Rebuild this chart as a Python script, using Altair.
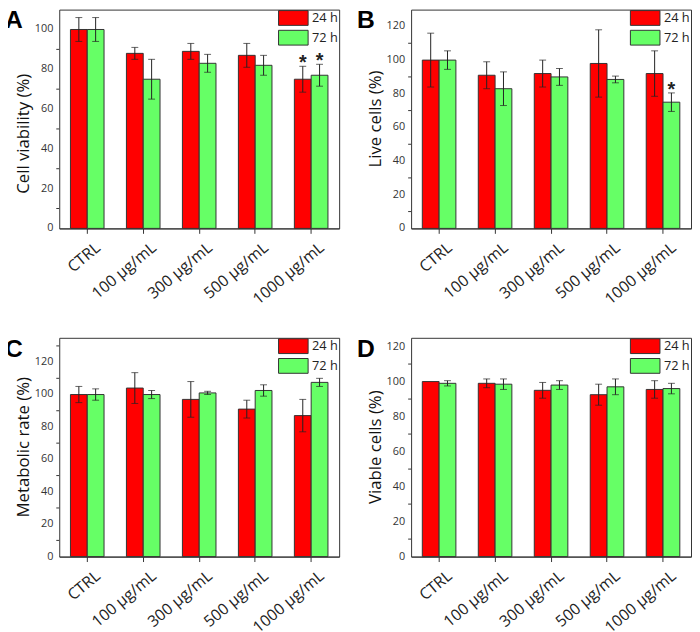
import altair as alt
import pandas as pd

categories = ["CTRL", "100 µg/mL", "300 µg/mL", "500 µg/mL", "1000 µg/mL"]
series = ["24 h", "72 h"]
colors = ["#ff0000", "#66ff66"]

# Panel A - Cell viability
A_24 = [100, 88, 89, 87, 75]
A_24_err = [6, 3, 4, 6, 6.5]
A_72 = [100, 75, 83, 82, 77]
A_72_err = [6, 10, 4.5, 5, 5.5]
A_star_24 = [0, 0, 0, 0, 1]
A_star_72 = [0, 0, 0, 0, 1]

# Panel B - Live cells
B_24 = [100, 91, 92, 98, 92]
B_24_err = [16, 8, 8, 20, 13.5]
B_72 = [100, 83, 90, 88.5, 75]
B_72_err = [5.5, 10, 5, 2, 5.5]
B_star_24 = [0, 0, 0, 0, 0]
B_star_72 = [0, 0, 0, 0, 1]

# Panel C - Metabolic rate
C_24 = [100, 104, 97, 91, 87]
C_24_err = [5, 9.5, 11, 5.5, 10]
C_72 = [100, 100, 101, 102.5, 107.5]
C_72_err = [3.5, 2.5, 1, 3.5, 2.5]
C_star_24 = [0, 0, 0, 0, 0]
C_star_72 = [0, 0, 0, 0, 0]

# Panel D - Viable cells
D_24 = [100, 99, 95, 92.5, 95.5]
D_24_err = [0, 2.5, 4.5, 6, 5]
D_72 = [99, 98.5, 98, 97, 96]
D_72_err = [1.5, 3, 2.5, 4.5, 3]
D_star_24 = [0, 0, 0, 0, 0]
D_star_72 = [0, 0, 0, 0, 0]

FONT = "Open Sans"
W, H = 284, 222


def make_df(v24, e24, s24, v72, e72, s72):
    rows = []
    for i, c in enumerate(categories):
        rows.append(dict(cat=c, s="24 h", v=v24[i], lo=v24[i] - e24[i], hi=v24[i] + e24[i],
                         star="*" if s24[i] else ""))
        rows.append(dict(cat=c, s="72 h", v=v72[i], lo=v72[i] - e72[i], hi=v72[i] + e72[i],
                         star="*" if s72[i] else ""))
    return pd.DataFrame(rows)


def panel(letter, ytitle, df, ymax, title_shift=0):
    base = alt.Chart(df)
    xenc = alt.X("cat:N", sort=categories, title=None,
                 scale=alt.Scale(paddingInner=0.4, paddingOuter=0.2),
                 axis=alt.Axis(labelAngle=320, labelAlign="right", labelBaseline="middle",
                               labelFontSize=16, labelFont=FONT, labelColor="#222",
                               tickSize=5, tickColor="#333", domainColor="#333",
                               labelPadding=12, labelOffset=11, labelOverlap=False))
    xoff = alt.XOffset("s:N", sort=series, scale=alt.Scale(paddingInner=0, paddingOuter=0))
    yscale = alt.Scale(domain=[0, ymax], nice=False, zero=True)
    yaxis = alt.Axis(values=list(range(0, ymax + 1, 20)), labels=False, title=None,
                     tickSize=5, tickColor="#333", domainColor="#333", grid=False)
    bars = base.mark_bar(stroke="#333", strokeWidth=1, opacity=1).encode(
        x=xenc, xOffset=xoff,
        y=alt.Y("v:Q", scale=yscale, axis=yaxis),
        color=alt.Color("s:N", sort=series,
                        scale=alt.Scale(domain=series, range=colors),
                        legend=alt.Legend(title=None, orient="none",
                                          legendX=W - 54.5, legendY=0.5,
                                          symbolType="M-2,-1H2V1H-2Z",
                                          symbolSize=225, symbolStrokeColor="#333",
                                          symbolStrokeWidth=1, symbolOpacity=1,
                                          labelFontSize=13, labelFont=FONT,
                                          labelColor="#222", labelOffset=11,
                                          rowPadding=0, padding=0)),
    )
    ylabels = alt.Chart(pd.DataFrame({"m": list(range(0, ymax + 1, 20))})).mark_text(
        font=FONT, fontSize=11, color="#333", align="right", baseline="middle").encode(
        y=alt.Y("m:Q", scale=yscale, axis=None), x=alt.value(-6), text="m:Q")
    ytitle_mark = alt.Chart(pd.DataFrame({"t": [ytitle]})).mark_text(
        font=FONT, fontSize=17, color="#111", angle=270, align="center",
        baseline="middle").encode(
        text="t:N", x=alt.value(-36), y=alt.value(H / 2 + title_shift))
    minor = alt.Chart(pd.DataFrame({"m": list(range(10, ymax, 20))})).mark_rule(
        color="#333", strokeWidth=1).encode(
        y=alt.Y("m:Q", scale=yscale, axis=None), x=alt.value(0), x2=alt.value(-3))
    edf = base.transform_filter("datum.hi > datum.lo")
    rule = edf.mark_rule(color="#222", strokeWidth=1).encode(
        x=alt.X("cat:N", sort=categories), xOffset=xoff,
        y=alt.Y("lo:Q", scale=yscale, axis=None), y2="hi:Q")
    cap_hi = edf.mark_tick(color="#222", size=7, thickness=1).encode(
        x=alt.X("cat:N", sort=categories), xOffset=xoff,
        y=alt.Y("hi:Q", scale=yscale, axis=None))
    cap_lo = edf.mark_tick(color="#222", size=7, thickness=1).encode(
        x=alt.X("cat:N", sort=categories), xOffset=xoff,
        y=alt.Y("lo:Q", scale=yscale, axis=None))
    star = base.transform_filter("datum.star != ''").mark_text(
        fontSize=20, font="Liberation Sans", fontWeight="bold", color="#222",
        baseline="alphabetic", dy=3).encode(
        x=alt.X("cat:N", sort=categories), xOffset=xoff,
        y=alt.Y("hi:Q", scale=yscale, axis=None), text="star:N")
    lab = alt.Chart(pd.DataFrame({"t": [letter]})).mark_text(
        fontSize=25, font="Liberation Sans", fontWeight="bold", color="#000",
        align="left", baseline="top").encode(
        text="t:N", x=alt.value(-55), y=alt.value(-1))
    return alt.layer(bars, ylabels, ytitle_mark, minor, rule, cap_hi, cap_lo, star, lab).properties(
        width=W, height=H)


pA = panel("A", "Cell viability (%)", make_df(A_24, A_24_err, A_star_24, A_72, A_72_err, A_star_72), 110, 15)
pB = panel("B", "Live cells (%)", make_df(B_24, B_24_err, B_star_24, B_72, B_72_err, B_star_72), 130)
pC = panel("C", "Metabolic rate (%)", make_df(C_24, C_24_err, C_star_24, C_72, C_72_err, C_star_72), 135)
pD = panel("D", "Viable cells (%)", make_df(D_24, D_24_err, D_star_24, D_72, D_72_err, D_star_72), 125)

chart = alt.vconcat(
    alt.hconcat(pA, pB, spacing=16).resolve_scale(color="independent", y="independent"),
    alt.hconcat(pC, pD, spacing=16).resolve_scale(color="independent", y="independent"),
    spacing=28,
).resolve_scale(color="independent", y="independent").configure_view(
    stroke="#333", strokeWidth=1).properties(
    padding={"top": -5, "left": -4, "right": 0, "bottom": 0})

chart.save("out.html", embed_options={"renderer": "svg", "actions": False})
